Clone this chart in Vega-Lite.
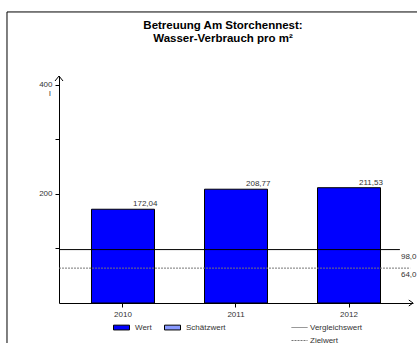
{
  "$schema": "https://vega.github.io/schema/vega-lite/v6.json",
  "autosize": "none",
  "width": 354,
  "height": 227,
  "padding": {"left": 59, "top": 76, "right": 4, "bottom": 40},
  "config": {
    "font": "Liberation Sans",
    "locale": {"number": {"decimal": ",", "thousands": ".", "grouping": [3], "currency": ["", " €"]}},
    "view": {"stroke": null},
    "axis": {"grid": false, "domainColor": "#000", "tickColor": "#000", "labelColor": "#333", "labelFontSize": 8, "title": null}
  },
  "title": {
    "text": ["Betreuung Am Storchennest:", "Wasser-Verbrauch pro m²"],
    "fontSize": 11.5,
    "fontWeight": "bold",
    "color": "#000",
    "anchor": "middle",
    "frame": "group",
    "dx": -13,
    "offset": -33,
    "lineHeight": 12.5
  },
  "datasets": {
    "werte": [
      {"jahr": "2010", "wert": 172.04, "art": "Wert"},
      {"jahr": "2011", "wert": 208.77, "art": "Wert"},
      {"jahr": "2012", "wert": 211.53, "art": "Wert"}
    ],
    "linien": [
      {"name": "Vergleichswert", "wert": 98},
      {"name": "Zielwert", "wert": 64}
    ],
    "leer": [{}]
  },
  "resolve": {"scale": {"x": "independent"}},
  "layer": [
    {
      "data": {"name": "werte"},
      "layer": [
        {
          "mark": {"type": "bar", "stroke": "#000", "strokeWidth": 1},
          "encoding": {
            "x": {
              "field": "jahr", "type": "ordinal",
              "scale": {"paddingInner": 0.4425, "paddingOuter": 0.2876},
              "axis": {"labelAngle": 0, "tickSize": 4, "labelPadding": 3, "domainWidth": 1}
            },
            "y": {
              "field": "wert", "type": "quantitative",
              "scale": {"domain": [0, 416.5], "nice": false, "zero": true},
              "axis": {"values": [100, 200, 300, 400], "tickSize": 4, "labelPadding": 3,
                       "labelExpr": "datum.value % 200 == 0 ? datum.label : ''"}
            },
            "color": {
              "field": "art", "type": "nominal",
              "scale": {"domain": ["Wert", "Schätzwert"], "range": ["#0000ff", "#8899ff"]},
              "legend": {
                "title": null, "orient": "none", "legendX": 54, "legendY": 243,
                "direction": "horizontal", "padding": 0,
                "symbolType": "M-1,-0.3H1V0.3H-1Z", "symbolSize": 256,
                "symbolStrokeColor": "#000", "symbolStrokeWidth": 1,
                "labelFontSize": 8, "labelColor": "#333", "labelOffset": 5, "columnPadding": 10
              }
            }
          }
        },
        {
          "mark": {"type": "text", "align": "left", "baseline": "alphabetic", "dx": 10, "dy": -3, "fontSize": 8, "color": "#333"},
          "encoding": {
            "x": {"field": "jahr", "type": "ordinal"},
            "y": {"field": "wert", "type": "quantitative"},
            "text": {"field": "wert", "type": "quantitative", "format": ".2f"}
          }
        }
      ]
    },
    {
      "layer": [
        {
          "data": {"name": "leer"},
          "mark": {"type": "rect", "fill": null, "stroke": "#000", "strokeWidth": 1},
          "encoding": {
            "x": {"datum": -0.1469, "type": "quantitative", "scale": {"domain": [0, 1], "nice": false, "zero": false}, "axis": null},
            "x2": {"datum": 1.2},
            "y": {"datum": 534, "type": "quantitative"},
            "y2": {"datum": -200}
          }
        },
        {
          "data": {"name": "leer"},
          "mark": {"type": "point", "shape": "M-1,1.25L0,0L1,1.25", "filled": false, "stroke": "#000", "strokeWidth": 1, "size": 64, "opacity": 1},
          "encoding": {
            "x": {"datum": 0, "type": "quantitative"},
            "y": {"datum": 416.5, "type": "quantitative"}
          }
        },
        {
          "data": {"name": "leer"},
          "mark": {"type": "point", "shape": "M-1.4,-1L0,0L-1.4,1", "filled": false, "stroke": "#000", "strokeWidth": 1, "size": 36, "opacity": 1},
          "encoding": {
            "x": {"datum": 1, "type": "quantitative"},
            "y": {"datum": 0, "type": "quantitative"}
          }
        },
        {
          "data": {"name": "leer"},
          "mark": {"type": "text", "text": "l", "align": "center", "baseline": "middle", "dx": -9, "dy": 9, "fontSize": 8, "color": "#333"},
          "encoding": {
            "x": {"datum": 0, "type": "quantitative"},
            "y": {"datum": 400, "type": "quantitative"}
          }
        },
        {
          "data": {"name": "linien"},
          "transform": [{"filter": "datum.name == 'Vergleichswert'"}],
          "mark": {"type": "rule", "stroke": "#000", "strokeWidth": 1},
          "encoding": {
            "x": {"datum": 0, "type": "quantitative"},
            "x2": {"datum": 0.963},
            "y": {"field": "wert", "type": "quantitative"},
            "strokeDash": {
              "field": "name", "type": "nominal",
              "scale": {"domain": ["Vergleichswert", "Zielwert"], "range": [[1, 0], [2, 1]]},
              "legend": {
                "title": null, "orient": "none", "legendX": 232, "legendY": 243,
                "direction": "vertical", "padding": 0, "symbolType": "stroke", "symbolSize": 256,
                "symbolStrokeColor": "#000", "symbolStrokeWidth": 1,
                "labelFontSize": 8, "labelColor": "#333", "labelOffset": 2, "rowPadding": 0
              }
            }
          }
        },
        {
          "data": {"name": "linien"},
          "transform": [{"filter": "datum.name == 'Zielwert'"}],
          "mark": {"type": "rule", "stroke": "#777", "strokeWidth": 1},
          "encoding": {
            "x": {"datum": 0, "type": "quantitative"},
            "x2": {"datum": 0.992},
            "y": {"field": "wert", "type": "quantitative"},
            "strokeDash": {"field": "name", "type": "nominal"}
          }
        },
        {
          "data": {"name": "linien"},
          "mark": {"type": "text", "align": "left", "baseline": "top", "dy": 3, "fontSize": 8, "color": "#333"},
          "encoding": {
            "x": {"datum": 0.966, "type": "quantitative"},
            "y": {"field": "wert", "type": "quantitative"},
            "text": {"field": "wert", "type": "quantitative", "format": ".1f"}
          }
        }
      ]
    }
  ]
}
